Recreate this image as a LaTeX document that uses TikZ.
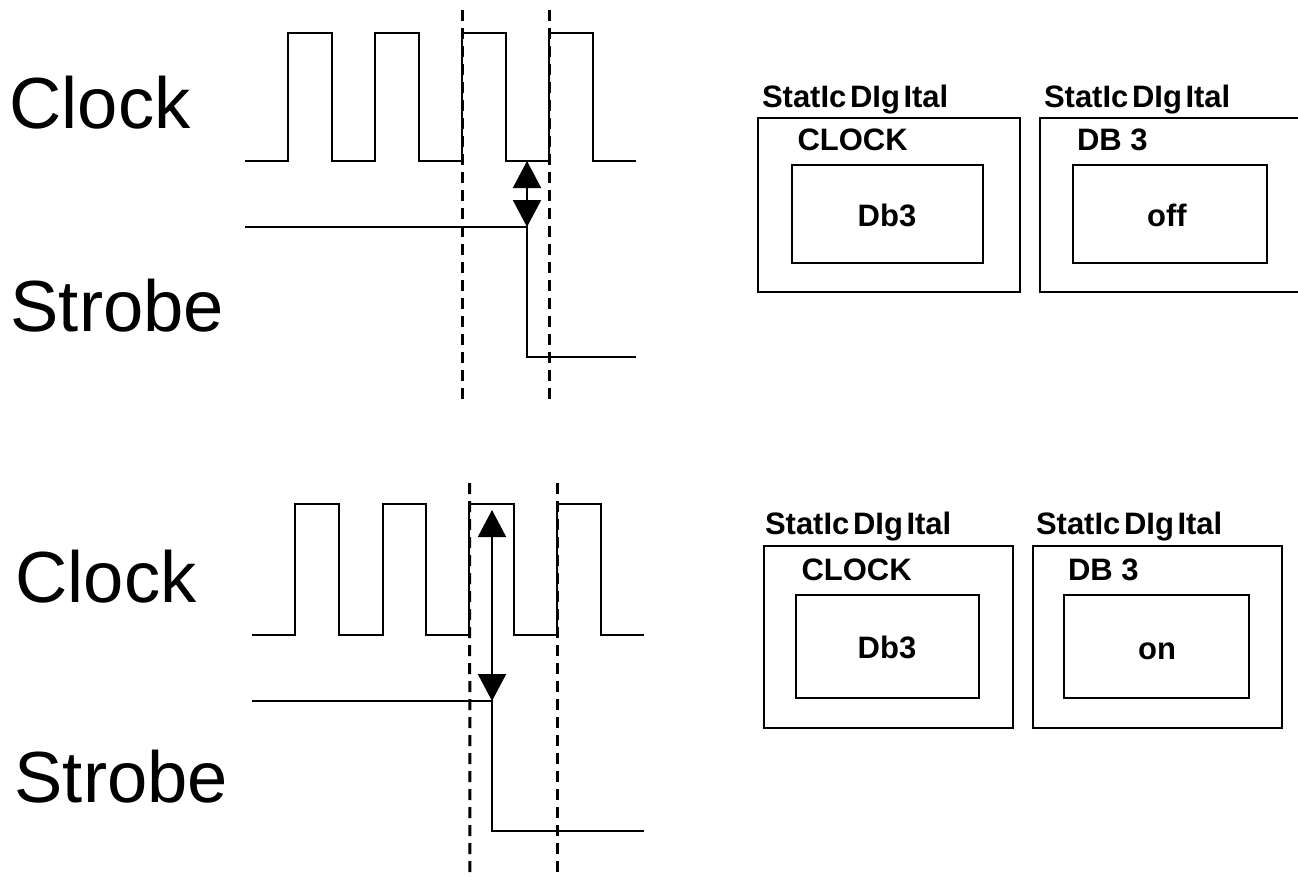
\documentclass[tikz,border=0pt]{standalone}
\usepackage{fontspec}
\setmainfont{Liberation Sans}
\usetikzlibrary{arrows.meta}
\begin{document}
\begin{tikzpicture}[x=0.5pt,y=-0.5pt,
  wave/.style={line width=1pt, line join=miter},
  guide/.style={line width=1.5pt, dash pattern=on 5.5pt off 3.5pt},
  dbl/.style={line width=1pt, {Triangle[width=14pt,length=13.5pt]}-{Triangle[width=14pt,length=13.5pt]}},
  frame/.style={line width=1.1pt},
  big/.style={anchor=base west, inner sep=0pt, outer sep=0pt, font=\fontsize{36.2}{40}\selectfont},
  ui/.style={anchor=base west, inner sep=0pt, outer sep=0pt, font=\fontsize{15.5}{18}\selectfont\bfseries},
  uic/.style={ui, anchor=base}]
\useasboundingbox (0,0) rectangle (1298,880);

% ---------- top panel ----------
\node[big] (clk1) at (9.5,128) {Clock};
\node[big] (stb1) at (10.7,331) {Strobe};

\draw[wave] (245,161) -- (288,161) -- (288,33) -- (332,33) -- (332,161) -- (375,161) -- (375,33) -- (419,33) -- (419,161)
  -- (462,161) -- (462,33) -- (506,33) -- (506,161) -- (549,161) -- (549,33) -- (593,33) -- (593,161) -- (636,161);
\draw[wave] (245,227) -- (527,227) -- (527,357) -- (636,357);
\draw[guide] (462.5,10) -- (462.5,400);
\draw[guide] (549.5,10) -- (549.5,400);
\coordinate (a1) at (527,161);
\coordinate (b1) at (527,227);
\draw[dbl] (a1) -- (b1);

\node[ui] (l1) at (762,107) {StatIc\kern1.8pt DIg\kern1.8pt Ital};
\draw[frame] (758,118) rectangle (1020,292);
\node[ui] (c1) at (797.5,150) {CLOCK};
\draw[frame] (792,165) rectangle (983,263);
\node[uic] (v1) at (887,226) {Db3};

\node[ui] (l2) at (1044,107) {StatIc\kern1.8pt DIg\kern1.8pt Ital};
\draw[frame] (1310,118) -- (1040,118) -- (1040,292) -- (1310,292);
\node[ui] (c2) at (1077,150) {DB 3};
\draw[frame] (1073,165) rectangle (1267,263);
\node[uic] (v2) at (1167,226) {off};

% ---------- bottom panel ----------
\node[big] (clk2) at (15.5,602) {Clock};
\node[big] (stb2) at (14.7,802) {Strobe};

\draw[wave] (252,635) -- (295,635) -- (295,504) -- (339,504) -- (339,635) -- (383,635) -- (383,504) -- (426,504) -- (426,635)
  -- (469,635) -- (469,504) -- (514,504) -- (514,635) -- (557,635) -- (557,504) -- (601,504) -- (601,635) -- (644,635);
\draw[wave] (252,701) -- (492,701) -- (492,831) -- (644,831);
\draw[guide] (469.5,483) -- (470,876);
\draw[guide] (557.5,483) -- (557.5,876);
\coordinate (a2) at (492,510);
\coordinate (b2) at (492,701);
\draw[dbl] (a2) -- (b2);

\node[ui] (l3) at (765,534) {StatIc\kern1.8pt DIg\kern1.8pt Ital};
\draw[frame] (764,546) rectangle (1013,728);
\node[ui] (c3) at (801.5,580) {CLOCK};
\draw[frame] (796,595) rectangle (979,698);
\node[uic] (v3) at (887,658) {Db3};

\node[ui] (l4) at (1036,534) {StatIc\kern1.8pt DIg\kern1.8pt Ital};
\draw[frame] (1033,546) rectangle (1282,728);
\node[ui] (c4) at (1068,580) {DB 3};
\draw[frame] (1064,595) rectangle (1249,698);
\node[uic] (v4) at (1157,659) {on};
\end{tikzpicture}
\end{document}
